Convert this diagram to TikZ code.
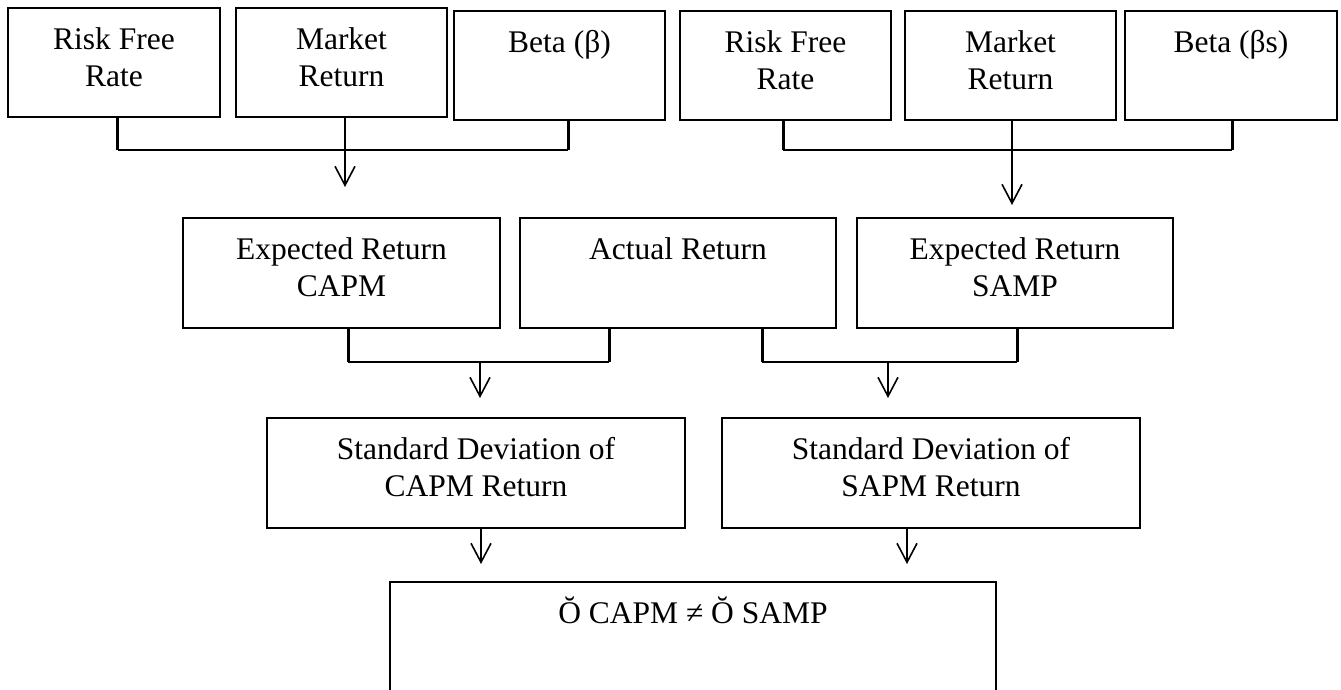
\documentclass[tikz,border=0pt]{standalone}
\usepackage{fontspec}
\setmainfont{Liberation Serif}
\usetikzlibrary{arrows.meta}
\newcommand\mkbox[5]{\node[box, minimum width={(#4-#2)*1pt}, minimum height={(#5-#3)*1pt}] (#1) at ({(#2+#4)/2},{(#3+#5)/2}) {};}
\begin{document}
\begin{tikzpicture}[x=1pt,y=-1pt,
  box/.style={draw,line width=2pt,inner sep=0pt,outer sep=0pt},
  lbl/.style={anchor=base,inner sep=0pt,yshift=-41pt,font=\fontsize{31.5}{37}\selectfont},
  stub/.style={line width=3pt},
  conn/.style={line width=1.8pt},
  arr/.style={line width=1.6pt,-{Straight Barb[length=19pt,width=20pt]}}]
\useasboundingbox (0,0) rectangle (1341,689);
\clip (0,0) rectangle (1341,689);
% top row
\mkbox{b1}{8}{8}{220}{117}
\mkbox{b2}{236}{8}{447}{117}
\mkbox{b3}{454}{11}{665}{120}
\mkbox{b4}{680}{11}{891}{120}
\mkbox{b5}{905}{11}{1116}{120}
\mkbox{b6}{1125}{11}{1337}{120}
\node[lbl] (t1) at (b1.north) {\parbox[t]{400pt}{\centering Risk Free\\Rate}};
\node[lbl] (t2) at (b2.north) {\parbox[t]{400pt}{\centering Market\\Return}};
\node[lbl] (t3) at (b3.north) {\parbox[t]{400pt}{\centering Beta (β)}};
\node[lbl] (t4) at (b4.north) {\parbox[t]{400pt}{\centering Risk Free\\Rate}};
\node[lbl] (t5) at (b5.north) {\parbox[t]{400pt}{\centering Market\\Return}};
\node[lbl] (t6) at (b6.north) {\parbox[t]{400pt}{\centering Beta (βs)}};
% middle row
\mkbox{m1}{183}{218}{500}{328}
\mkbox{m2}{520}{218}{836}{328}
\mkbox{m3}{857}{218}{1173}{328}
\node[lbl] (t7) at (m1.north) {\parbox[t]{400pt}{\centering Expected Return\\CAPM}};
\node[lbl] (t8) at (m2.north) {\parbox[t]{400pt}{\centering Actual Return}};
\node[lbl] (t9) at (m3.north) {\parbox[t]{400pt}{\centering Expected Return\\SAMP}};
% std row
\mkbox{s1}{267}{418}{685}{528}
\mkbox{s2}{722}{418}{1140}{528}
\node[lbl] (t10) at (s1.north) {\parbox[t]{400pt}{\centering Standard Deviation of\\CAPM Return}};
\node[lbl] (t11) at (s2.north) {\parbox[t]{400pt}{\centering Standard Deviation of\\SAPM Return}};
% bottom box (runs past the lower edge)
\mkbox{f}{390}{582}{996}{720}
\node[lbl] (t12) at (f.north) {\parbox[t]{500pt}{\centering Ŏ CAPM ≠ Ŏ SAMP}};
% connectors top-left
\coordinate (h1l) at (117.5,150); \coordinate (h1r) at (568,150); \coordinate (a1) at (345,187);
\draw[stub] (b1.south -| h1l) -- (h1l);
\draw[stub] (b3.south -| h1r) -- (h1r);
\draw[conn] (h1l) -- (h1r);
\draw[arr] (b2.south -| a1) -- (a1);
% connectors top-right
\coordinate (h2l) at (783,150); \coordinate (h2r) at (1232,150); \coordinate (a2) at (1012,205);
\draw[stub] (b4.south -| h2l) -- (h2l);
\draw[stub] (b6.south -| h2r) -- (h2r);
\draw[conn] (h2l) -- (h2r);
\draw[arr] (b5.south -| a2) -- (a2);
% connectors middle-left
\coordinate (h3l) at (348,362); \coordinate (h3r) at (609,362); \coordinate (a3) at (480,398);
\draw[stub] (m1.south -| h3l) -- (h3l);
\draw[stub] (m2.south -| h3r) -- (h3r);
\draw[conn] (h3l) -- (h3r);
\draw[arr] (h3l -| a3) -- (a3);
% connectors middle-right
\coordinate (h4l) at (762,362); \coordinate (h4r) at (1017,362); \coordinate (a4) at (888,398);
\draw[stub] (m2.south -| h4l) -- (h4l);
\draw[stub] (m3.south -| h4r) -- (h4r);
\draw[conn] (h4l) -- (h4r);
\draw[arr] (h4l -| a4) -- (a4);
% std arrows
\coordinate (a5) at (481,564); \coordinate (a6) at (907,564);
\draw[arr] (s1.south -| a5) -- (a5);
\draw[arr] (s2.south -| a6) -- (a6);
\end{tikzpicture}
\end{document}
